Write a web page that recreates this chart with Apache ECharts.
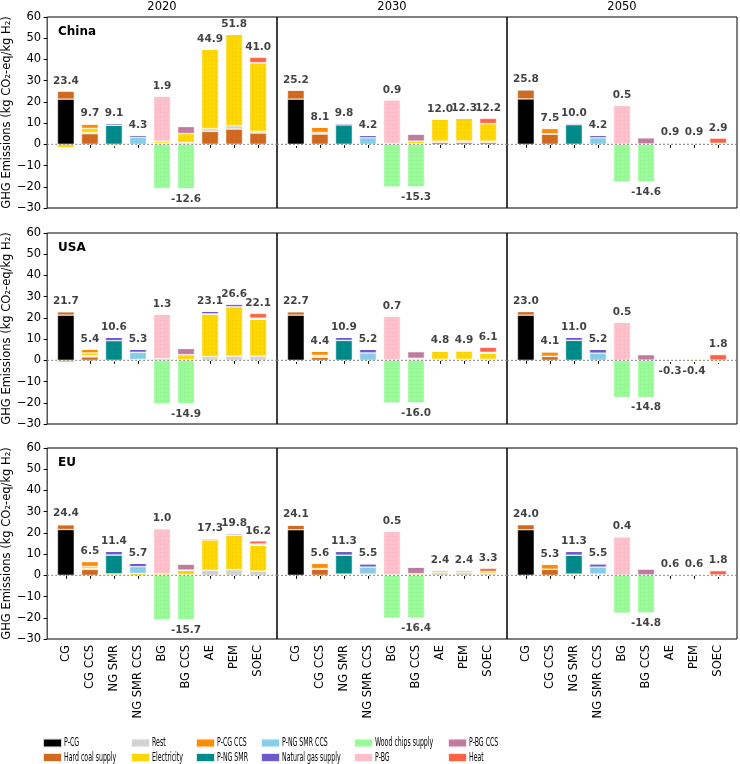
<!DOCTYPE html>
<html><head><meta charset="utf-8">
<script src="https://cdn.jsdelivr.net/npm/echarts@6/dist/echarts.min.js"></script>
<style>html,body{margin:0;padding:0;background:#fff}#c{width:740px;height:764px}</style>
</head><body><div id="c"></div>
<script>
// ---------- data ----------
const categories = ['CG', 'CG CCS', 'NG SMR', 'NG SMR CCS', 'BG', 'BG CCS', 'AE', 'PEM', 'SOEC'];
const components = ['P-CG', 'Hard coal supply', 'Rest', 'Electricity', 'P-CG CCS', 'P-NG SMR',
  'P-NG SMR CCS', 'Natural gas supply', 'Wood chips supply', 'P-BG', 'P-BG CCS', 'Heat'];
const colors = ['#000000', '#D2691E', '#D3D3D3', '#FFD700', '#FF8C00', '#008B8B',
  '#87CEEB', '#6A5ACD', '#98FB98', '#FFC0CB', '#C27BA0', '#FF6347'];
const regions = ['China', 'USA', 'EU'];
const years = ['2020', '2030', '2050'];

// rows = components (order above), columns = categories (order above)
const CHINA_2020 = [
  [21.3, 0, 0, 0, 0, 0, 0, 0, 0],
  [3.8, 5.0, 0, 0, 0, 0.5, 6.1, 7.2, 5.3],
  [0, 0.5, 0, 0, 0.5, 0.4, 1.3, 1.6, 0.8],
  [-1.7, 2.0, -0.7, 0, 1.0, 4.2, 37.5, 43.0, 32.4],
  [0, 2.2, 0, 0, 0, 0, 0, 0, 0],
  [0, 0, 9.0, 0, 0, 0, 0, 0, 0],
  [0, 0, 0, 3.3, 0, 0, 0, 0, 0],
  [0, 0, 0.8, 1.0, 0, 0, 0, 0, 0],
  [0, 0, 0, 0, -20.8, -21.0, 0, 0, 0],
  [0, 0, 0, 0, 21.2, 0, 0, 0, 0],
  [0, 0, 0, 0, 0, 3.3, 0, 0, 0],
  [0, 0, 0, 0, 0, 0, 0, 0, 2.5]
];
const CHINA_2030 = [
  [21.3, 0, 0, 0, 0, 0, 0, 0, 0],
  [4.2, 4.9, 0, 0, 0, 0, 0.9, 0.9, 0.9],
  [0, 0.1, 0, 0, 0, 0.3, 0.6, 0.7, 0.6],
  [-0.3, 0.6, -0.2, 0, 0.4, 1.2, 10.5, 10.7, 8.3],
  [0, 2.5, 0, 0, 0, 0, 0, 0, 0],
  [0, 0, 9.2, 0, 0, 0, 0, 0, 0],
  [0, 0, 0, 3.1, 0, 0, 0, 0, 0],
  [0, 0, 0.8, 1.1, 0, 0, 0, 0, 0],
  [0, 0, 0, 0, -20.1, -20.1, 0, 0, 0],
  [0, 0, 0, 0, 20.6, 0, 0, 0, 0],
  [0, 0, 0, 0, 0, 3.3, 0, 0, 0],
  [0, 0, 0, 0, 0, 0, 0, 0, 2.4]
];
const CHINA_2050 = [
  [21.4, 0, 0, 0, 0, 0, 0, 0, 0],
  [4.4, 4.8, 0, 0, 0, 0, 0, 0, 0],
  [0, 0.2, 0, 0, 0, 0.2, 0.4, 0.4, 0.2],
  [0, 0, 0, 0, 0.1, 0, 0.5, 0.5, 0.3],
  [0, 2.5, 0, 0, 0, 0, 0, 0, 0],
  [0, 0, 9.3, 0, 0, 0, 0, 0, 0],
  [0, 0, 0, 3.1, 0, 0, 0, 0, 0],
  [0, 0, 0.7, 1.1, 0, 0, 0, 0, 0],
  [0, 0, 0, 0, -17.8, -17.7, 0, 0, 0],
  [0, 0, 0, 0, 18.2, 0, 0, 0, 0],
  [0, 0, 0, 0, 0, 2.9, 0, 0, 0],
  [0, 0, 0, 0, 0, 0, 0, 0, 2.4]
];
const USA_2020 = [
  [21.3, 0, 0, 0, 0, 0, 0, 0, 0],
  [1.6, 1.6, 0, 0, 0, 0, 0, 0, 0],
  [0, 0.5, 0, 0.2, 0, 0.3, 1.8, 2.0, 2.0],
  [-1.2, 1.4, -0.3, 0.2, 0.8, 2.4, 20.1, 23.3, 17.4],
  [0, 1.9, 0, 0, 0, 0, 0, 0, 0],
  [0, 0, 9.3, 0, 0, 0, 0, 0, 0],
  [0, 0, 0, 3.4, 0, 0, 0, 0, 0],
  [0, 0, 1.6, 1.5, 0, 0, 1.2, 1.3, 0.5],
  [0, 0, 0, 0, -20.5, -20.5, 0, 0, 0],
  [0, 0, 0, 0, 21.0, 0, 0, 0, 0],
  [0, 0, 0, 0, 0, 2.9, 0, 0, 0],
  [0, 0, 0, 0, 0, 0, 0, 0, 2.2]
];
const USA_2030 = [
  [21.3, 0, 0, 0, 0, 0, 0, 0, 0],
  [1.6, 1.4, 0, 0, 0, 0, 0, 0, 0],
  [0, 0.3, 0, 0, 0, 0.3, 0.5, 0.5, 0.5],
  [-0.2, 0.7, 0, 0, 0.2, 0.7, 3.9, 4.0, 3.0],
  [0, 2.0, 0, 0, 0, 0, 0, 0, 0],
  [0, 0, 9.4, 0, 0, 0, 0, 0, 0],
  [0, 0, 0, 3.5, 0, 0, 0, 0, 0],
  [0, 0, 1.5, 1.7, 0, 0, 0.4, 0.4, 0.3],
  [0, 0, 0, 0, -20.1, -20.1, 0, 0, 0],
  [0, 0, 0, 0, 20.6, 0, 0, 0, 0],
  [0, 0, 0, 0, 0, 3.1, 0, 0, 0],
  [0, 0, 0, 0, 0, 0, 0, 0, 2.3]
];
const USA_2050 = [
  [21.3, 0, 0, 0, 0, 0, 0, 0, 0],
  [1.7, 1.8, 0, 0, 0, 0, 0, 0, 0],
  [0, 0.1, 0, 0, 0, 0.1, 0.1, 0.1, 0.1],
  [0, 0, 0, 0, 0, 0, -0.4, -0.5, -0.9],
  [0, 2.2, 0, 0, 0, 0, 0, 0, 0],
  [0, 0, 9.4, 0, 0, 0, 0, 0, 0],
  [0, 0, 0, 3.4, 0, 0, 0, 0, 0],
  [0, 0, 1.6, 1.8, 0, 0, 0, 0, 0],
  [0, 0, 0, 0, -17.5, -17.5, 0, 0, 0],
  [0, 0, 0, 0, 18.0, 0, 0, 0, 0],
  [0, 0, 0, 0, 0, 2.6, 0, 0, 0],
  [0, 0, 0, 0, 0, 0, 0, 0, 2.6]
];
const EU_2020 = [
  [21.6, 0, 0, 0, 0, 0, 0, 0, 0],
  [2.2, 2.8, 0, 0, 0, 0, 0, 0, 0],
  [0.2, 0.4, 0, 0, 0, 0.3, 2.4, 2.7, 2.0],
  [0.4, 1.0, 0.7, 0.9, 0.8, 2.2, 14.4, 16.4, 12.2],
  [0, 2.3, 0, 0, 0, 0, 0, 0, 0],
  [0, 0, 8.9, 0, 0, 0, 0, 0, 0],
  [0, 0, 0, 3.2, 0, 0, 0, 0, 0],
  [0, 0, 1.8, 1.6, 0, 0, 0.5, 0.7, 0.6],
  [0, 0, 0, 0, -21.0, -21.0, 0, 0, 0],
  [0, 0, 0, 0, 21.2, 0, 0, 0, 0],
  [0, 0, 0, 0, 0, 2.8, 0, 0, 0],
  [0, 0, 0, 0, 0, 0, 0, 0, 1.4]
];
const EU_2030 = [
  [21.5, 0, 0, 0, 0, 0, 0, 0, 0],
  [2.1, 2.9, 0, 0, 0, 0, 0, 0, 0],
  [0, 0, 0, 0, 0, 0.2, 1.3, 1.3, 1.0],
  [0.5, 0.3, 0.6, 0.6, 0.3, 0.6, 1.1, 1.1, 0.8],
  [0, 2.4, 0, 0, 0, 0, 0, 0, 0],
  [0, 0, 8.9, 0, 0, 0, 0, 0, 0],
  [0, 0, 0, 3.3, 0, 0, 0, 0, 0],
  [0, 0, 1.8, 1.6, 0, 0, 0, 0, 0],
  [0, 0, 0, 0, -20.2, -20.2, 0, 0, 0],
  [0, 0, 0, 0, 20.4, 0, 0, 0, 0],
  [0, 0, 0, 0, 0, 3.0, 0, 0, 0],
  [0, 0, 0, 0, 0, 0, 0, 0, 1.5]
];
const EU_2050 = [
  [21.5, 0, 0, 0, 0, 0, 0, 0, 0],
  [2.4, 2.9, 0, 0, 0, 0, 0, 0, 0],
  [0, 0, 0, 0, 0, 0.2, 0.4, 0.4, 0.2],
  [0.1, 0, 0.6, 0.6, 0.1, 0, 0.2, 0.2, -0.4],
  [0, 2.4, 0, 0, 0, 0, 0, 0, 0],
  [0, 0, 8.9, 0, 0, 0, 0, 0, 0],
  [0, 0, 0, 3.3, 0, 0, 0, 0, 0],
  [0, 0, 1.8, 1.6, 0, 0, 0, 0, 0],
  [0, 0, 0, 0, -17.8, -17.8, 0, 0, 0],
  [0, 0, 0, 0, 18.1, 0, 0, 0, 0],
  [0, 0, 0, 0, 0, 2.8, 0, 0, 0],
  [0, 0, 0, 0, 0, 0, 0, 0, 2.0]
];
const panels = [
  [CHINA_2020, CHINA_2030, CHINA_2050],
  [USA_2020, USA_2030, USA_2050],
  [EU_2020, EU_2030, EU_2050]
];

// ---------- layout ----------
const FONT = "'DejaVu Sans', sans-serif";
const PL = [47, 277, 507], PW = 230;
const PT = [17, 233, 448], PH = 191;
const X_MARGIN = 0.285;     // extra x padding (in category units) each side
const Y_MIN = -30, Y_MAX = 60, Y_STEP = 10;
const Y_NAME = 'GHG Emissions (kg CO\u2082-eq/kg H\u2082)';
const LEG_X = [42, 130, 195, 260, 353, 447];
const LEG_Y = [743, 757.5];

const fmtTick = v => v < 0 ? '\u2212' + Math.abs(v) : String(v);

const option = {
  animation: false,
  backgroundColor: '#fff',
  textStyle: { fontFamily: FONT },
  grid: [], xAxis: [], yAxis: [], series: [], legend: [], graphic: []
};

for (let r = 0; r < 3; r++) {
  for (let c = 0; c < 3; c++) {
    const mat = panels[r][c];
    const fi = option.grid.length;
    // frame grid (box, y axis, zero line)
    option.grid.push({ left: PL[c], top: PT[r], width: PW, height: PH, show: true,
      borderColor: '#000', borderWidth: 1, backgroundColor: 'transparent' });
    option.xAxis.push({ gridIndex: fi, type: 'value', min: 0, max: 1, show: false });
    option.yAxis.push({ gridIndex: fi, type: 'value', min: Y_MIN, max: Y_MAX, interval: Y_STEP,
      axisLine: { show: false }, splitLine: { show: false },
      axisTick: { show: c === 0, length: 3.5, lineStyle: { color: '#000', width: 1 } },
      axisLabel: { show: c === 0, margin: 6, fontSize: 11.5, color: '#000', fontFamily: FONT, formatter: fmtTick },
      name: c === 0 ? Y_NAME : '', nameLocation: 'middle', nameGap: 30,
      nameTextStyle: { fontSize: 11.5, color: '#000', fontFamily: FONT } });
    option.series.push({ type: 'line', xAxisIndex: fi, yAxisIndex: fi, data: [[0, 0], [1, 0]],
      symbol: 'none', silent: true, z: 5,
      lineStyle: { color: '#888', width: 1, type: [2, 2] } });

    // data grid (category axis)
    const di = fi + 1;
    const band = PW / (categories.length + 2 * X_MARGIN);
    option.grid.push({ left: PL[c] + X_MARGIN * band, top: PT[r], width: band * categories.length, height: PH });
    option.xAxis.push({ gridIndex: di, type: 'category', data: categories,
      axisLine: { show: false },
      axisTick: { show: true, alignWithLabel: true, interval: 0, length: 3.5, lineStyle: { color: '#000', width: 1 } },
      axisLabel: { show: r === 2, interval: 0, rotate: 90, margin: 6, fontSize: 11.5, color: '#000', fontFamily: FONT } });
    option.yAxis.push({ gridIndex: di, type: 'value', min: Y_MIN, max: Y_MAX, interval: Y_STEP, show: false });

    components.forEach((name, j) => {
      option.series.push({ type: 'bar', name, xAxisIndex: di, yAxisIndex: di, stack: 'p' + fi,
        barWidth: '70%', data: mat[j],
        itemStyle: { color: colors[j], borderColor: 'rgba(255,255,255,0.6)', borderWidth: 0.5,
          decal: { symbol: 'rect', symbolSize: 1, color: 'rgba(0,0,0,0.06)',
            dashArrayX: [1, 3], dashArrayY: [1, 3], rotation: 0 } } });
    });

    // net labels
    const labelData = categories.map((cat, i) => {
      let pos = 0, neg = 0;
      mat.forEach(row => { if (row[i] > 0) pos += row[i]; else neg += row[i]; });
      const net = pos + neg;
      const up = net >= 0;
      return { value: [i, up ? pos : neg], net,
        label: { position: up ? 'top' : 'bottom' } };
    });
    option.series.push({ type: 'scatter', xAxisIndex: di, yAxisIndex: di, data: labelData,
      symbolSize: 1, itemStyle: { color: 'transparent' }, silent: true, z: 10,
      label: { show: true, distance: 4, fontSize: 10.5, fontWeight: 'bold', color: '#111', fontFamily: FONT,
        formatter: p => p.data.net.toFixed(1) } });
  }
}

// column titles and region labels
years.forEach((y, c) => option.graphic.push({ type: 'text', x: PL[c] + PW / 2, y: 7,
  style: { text: y, align: 'center', verticalAlign: 'middle', font: '11.5px ' + FONT, fill: '#000' } }));
regions.forEach((g, r) => option.graphic.push({ type: 'text', x: 58, y: PT[r] + 15,
  style: { text: g, align: 'left', verticalAlign: 'middle', font: 'bold 12px ' + FONT, fill: '#000' } }));

// legend: 6 columns x 2 rows; icons via legend component (names hidden), names drawn as compressed text
for (let g = 0; g < 6; g++) {
  option.legend.push({ left: LEG_X[g], top: LEG_Y[0] - 6, orient: 'vertical', itemWidth: 19, itemHeight: 9,
    itemGap: LEG_Y[1] - LEG_Y[0] - 12, icon: 'rect', selectedMode: false, padding: 0,
    data: [components[2 * g], components[2 * g + 1]],
    textStyle: { fontSize: 10.5, lineHeight: 12, color: 'rgba(0,0,0,0)', width: 10, overflow: 'truncate' } });
}
components.forEach((name, j) => {
  const g = Math.floor(j / 2), row = j % 2;
  option.graphic.push({ type: 'text', x: LEG_X[g] + 22, y: LEG_Y[row], scaleX: 0.52, z: 100,
    style: { text: name, align: 'left', verticalAlign: 'middle', font: '12px ' + FONT, fill: '#000' } });
});

const chart = echarts.init(document.getElementById('c'), null, { renderer: 'canvas' });
chart.setOption(option);
</script>
</body></html>
